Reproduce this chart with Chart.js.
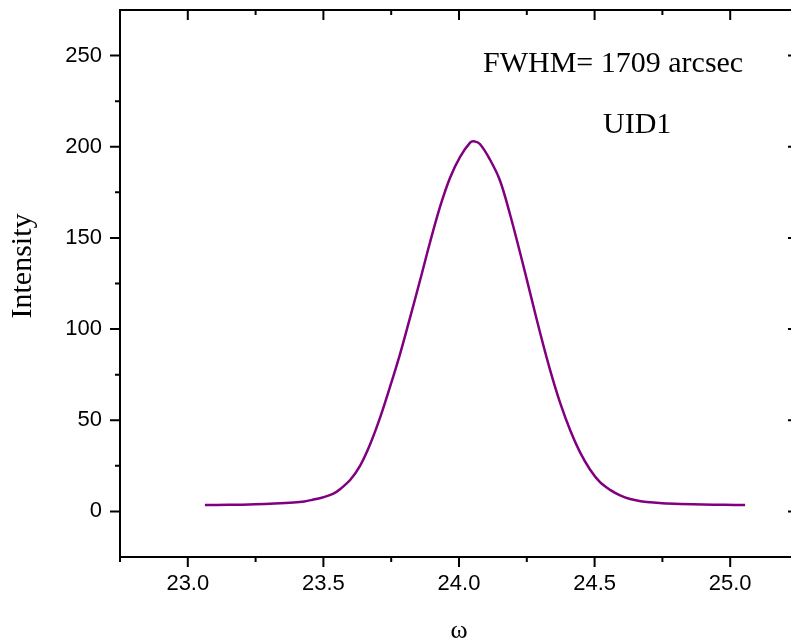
<!DOCTYPE html>
<html>
<head>
    <meta charset="UTF-8">
    <title>UID1 rocking curve</title>
    <script src="https://cdn.jsdelivr.net/npm/chart.js"></script>
    <style>
        html, body { margin: 0; overflow: hidden; background: #fff; }
        #wrap { width: 791px; height: 644px; overflow: hidden; }
        canvas { display: block; }
    </style>
</head>
<body>

<div id="wrap"><canvas id="rockingChart" width="800" height="644"></canvas></div>

<script>
    // omega (deg) and intensity
    const omega = [23.063, 23.15, 23.25, 23.32, 23.39, 23.43, 23.46, 23.50, 23.535, 23.56,
        23.60, 23.635, 23.67, 23.708, 23.745, 23.782, 23.819, 23.856, 23.893, 23.93,
        23.967, 24.004, 24.041, 24.055, 24.077, 24.114, 24.151, 24.188, 24.225, 24.262,
        24.299, 24.336, 24.373, 24.41, 24.446, 24.483, 24.52, 24.557, 24.594, 24.631,
        24.67, 24.705, 24.75, 24.82, 24.90, 24.98, 25.055];
    const intensity = [3.5, 3.6, 3.9, 4.3, 4.9, 5.5, 6.4, 7.8, 9.6, 12,
        17.5, 25, 36, 51, 68, 86, 106, 126.5, 147.5, 167,
        183, 194.5, 202.3, 203, 201.5, 193, 181.5, 163, 142, 120,
        98, 77.5, 59.5, 44.5, 32.5, 23, 16, 11.8, 8.8, 6.8,
        5.6, 5.0, 4.5, 4.1, 3.8, 3.6, 3.5];

    // axes (the right edge of the frame falls just outside the picture)
    const xRange = [22.75, 25.25];
    const yRange = [-25, 275];
    const xTicks = [23.0, 23.5, 24.0, 24.5, 25.0];
    const xMinor = [22.75, 23.25, 23.75, 24.25, 24.75, 25.25];
    const yTicks = [0, 50, 100, 150, 200, 250];
    const yMinor = [25, 75, 125, 175, 225];

    const annotations = ['FWHM= 1709 arcsec', 'UID1'];

    // frame + inward/outward tick marks + text
    const framePlugin = {
        id: 'frame',
        afterDraw(chart) {
            const ctx = chart.ctx;
            const a = chart.chartArea;
            const xs = chart.scales.x, ys = chart.scales.y;
            ctx.save();
            ctx.strokeStyle = '#000';
            ctx.lineWidth = 2;
            ctx.strokeRect(a.left, a.top, a.right - a.left, a.bottom - a.top);

            ctx.beginPath();
            const xt = (v, len) => {
                const p = xs.getPixelForValue(v);
                ctx.moveTo(p, a.bottom); ctx.lineTo(p, a.bottom + len);   // outward
                ctx.moveTo(p, a.top); ctx.lineTo(p, a.top + len);         // inward
            };
            const yt = (v, len) => {
                const p = ys.getPixelForValue(v);
                ctx.moveTo(a.left - len, p); ctx.lineTo(a.left, p);       // outward
                ctx.moveTo(a.right - len, p); ctx.lineTo(a.right, p);     // inward
            };
            xTicks.forEach(v => xt(v, 10));
            xMinor.forEach(v => xt(v, 5));
            yTicks.forEach(v => yt(v, 10));
            yMinor.forEach(v => yt(v, 5));
            ctx.stroke();

            // y axis title
            ctx.fillStyle = '#000';
            ctx.font = '30px "Liberation Serif"';
            ctx.textAlign = 'center';
            ctx.textBaseline = 'middle';
            ctx.translate(23, 266);
            ctx.rotate(-Math.PI / 2);
            ctx.fillText('Intensity', 0, 0);
            ctx.restore();

            // annotation text
            ctx.save();
            ctx.fillStyle = '#000';
            ctx.font = '30px "Liberation Serif"';
            ctx.textAlign = 'left';
            ctx.textBaseline = 'alphabetic';
            ctx.fillText(annotations[0], 483, 72);
            ctx.fillText(annotations[1], 603, 133);
            ctx.restore();
        }
    };

    const ctx = document.getElementById('rockingChart').getContext('2d');

    const chartData = {
        datasets: [{
            label: 'UID1',
            data: omega.map((x, i) => ({ x: x, y: intensity[i] })),
            borderColor: '#800080',
            borderWidth: 2.5,
            pointRadius: 0,
            fill: false,
            tension: 0.35
        }]
    };

    const chartOptions = {
        responsive: false,
        animation: false,
        layout: { padding: { left: 0, top: 10, right: 2, bottom: 0 } },
        plugins: { legend: { display: false }, tooltip: { enabled: false } },
        scales: {
            x: {
                type: 'linear',
                min: xRange[0],
                max: xRange[1],
                grid: { display: false, drawTicks: false },
                border: { display: false },
                afterBuildTicks: scale => { scale.ticks = xTicks.map(v => ({ value: v })); },
                afterFit: scale => {
                    scale.height = 87;
                    scale.paddingLeft = 0;
                    scale.paddingRight = 0;
                },
                ticks: {
                    color: '#000',
                    padding: 14,
                    maxRotation: 0,
                    font: { family: '"Liberation Sans"', size: 22 },
                    callback: v => Number(v).toFixed(1)
                },
                title: {
                    display: true,
                    text: 'ω',
                    color: '#000',
                    padding: { top: 0, bottom: -3 },
                    font: { family: '"Liberation Serif"', size: 26 }
                }
            },
            y: {
                min: yRange[0],
                max: yRange[1],
                grid: { display: false, drawTicks: false },
                border: { display: false },
                afterBuildTicks: scale => { scale.ticks = yTicks.map(v => ({ value: v })); },
                afterFit: scale => {
                    scale.width = 120;
                    scale.paddingTop = 0;
                    scale.paddingBottom = 0;
                },
                ticks: {
                    color: '#000',
                    padding: 18,
                    font: { family: '"Liberation Sans"', size: 22 }
                }
            }
        }
    };

    new Chart(ctx, {
        type: 'line',
        data: chartData,
        options: chartOptions,
        plugins: [framePlugin]
    });
</script>

</body>
</html>
